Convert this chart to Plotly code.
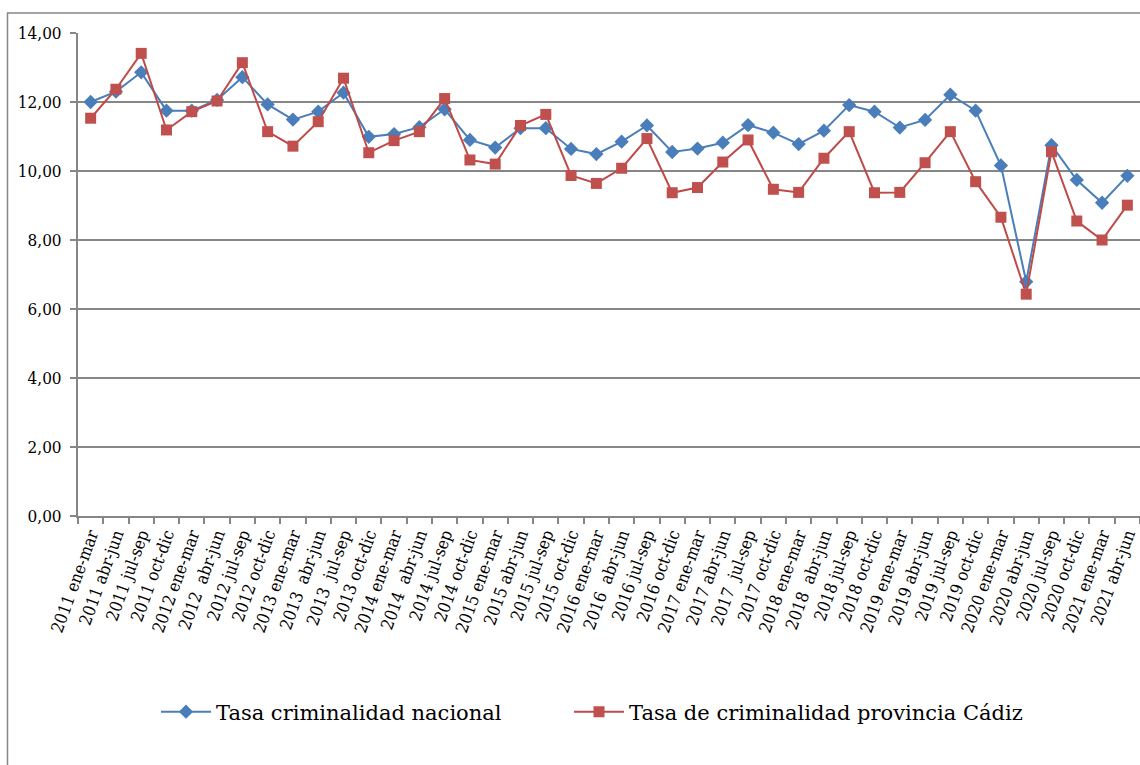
import plotly.graph_objects as go

NB = "\u00a0"
categories = [
    "2011 ene-mar", "2011 abr-jun", "2011 jul-sep", "2011 oct-dic",
    "2012 ene-mar", "2012 " + NB + "abr-jun", "2012 jul-sep", "2012 oct-dic",
    "2013 ene-mar", "2013 " + NB + "abr-jun", "2013 " + NB + "jul-sep", "2013 oct-dic",
    "2014 ene-mar", "2014 " + NB + "abr-jun", "2014 jul-sep", "2014 oct-dic",
    "2015 ene-mar", "2015 abr-jun", "2015 jul-sep", "2015 oct-dic",
    "2016 ene-mar", "2016 " + NB + "abr-jun", "2016 jul-sep", "2016 oct-dic",
    "2017 ene-mar", "2017 abr-jun", "2017 " + NB + "jul-sep", "2017 oct-dic",
    "2018 ene-mar", "2018 " + NB + "abr-jun", "2018 jul-sep", "2018 oct-dic",
    "2019 ene-mar", "2019 abr-jun", "2019 jul-sep", "2019 oct-dic",
    "2020 ene-mar", "2020 abr-jun", "2020 jul-sep", "2020 oct-dic",
    "2021 ene-mar", "2021 abr-jun",
]

nacional = [
    12.00, 12.30, 12.86, 11.75, 11.75, 12.06, 12.72, 11.93, 11.49, 11.72,
    12.27, 10.99, 11.07, 11.27, 11.79, 10.90, 10.68, 11.24, 11.24, 10.64,
    10.49, 10.85, 11.32, 10.55, 10.65, 10.82, 11.33, 11.11, 10.78, 11.17,
    11.91, 11.72, 11.26, 11.48, 12.21, 11.75, 10.16, 6.79, 10.75, 9.74,
    9.08, 9.86,
]

cadiz = [
    11.53, 12.37, 13.41, 11.19, 11.72, 12.03, 13.14, 11.14, 10.72, 11.43,
    12.69, 10.53, 10.88, 11.14, 12.10, 10.32, 10.20, 11.32, 11.64, 9.87,
    9.64, 10.08, 10.94, 9.37, 9.52, 10.26, 10.90, 9.47, 9.38, 10.37,
    11.14, 9.37, 9.38, 10.24, 11.14, 9.69, 8.66, 6.43, 10.56, 8.55,
    8.00, 9.01,
]

series_names = ["Tasa criminalidad nacional", "Tasa de criminalidad provincia Cádiz"]

fig = go.Figure()
fig.add_trace(go.Scatter(
    x=categories, y=nacional, name=series_names[0], mode="lines+markers",
    line=dict(color="#4A7EBB", width=2),
    marker=dict(symbol="diamond", size=11, color="#4A7EBB"),
    legend="legend",
))
fig.add_trace(go.Scatter(
    x=categories, y=cadiz, name=series_names[1], mode="lines+markers",
    line=dict(color="#BE4B48", width=2),
    marker=dict(symbol="square", size=11, color="#C0504D"),
    legend="legend2",
))

W, H = 1140, 765
L, R, T, B = 78, 0, 33, 249
pw, ph = W - L - R, H - T - B

def px_x(x):
    return (x - L) / pw

def px_y(y):
    return (H - B - y) / ph

LEG_FONT = dict(size=21, family="DejaVu Serif", color="black")

fig.update_layout(
    width=W, height=H,
    margin=dict(l=L, r=R, t=T, b=B, pad=0),
    paper_bgcolor="white", plot_bgcolor="white",
    separators=",.",
    font=dict(family="DejaVu Serif", size=16, color="black"),
    showlegend=True,
    legend=dict(
        orientation="h", x=px_x(156), xanchor="left", y=px_y(712), yanchor="middle",
        font=LEG_FONT, bgcolor="rgba(0,0,0,0)", itemwidth=50,
    ),
    legend2=dict(
        orientation="h", x=px_x(569), xanchor="left", y=px_y(712), yanchor="middle",
        font=LEG_FONT, bgcolor="rgba(0,0,0,0)", itemwidth=50,
    ),
    xaxis=dict(
        type="category", tickangle=-70, tickson="boundaries",
        showgrid=False, showline=True, linecolor="#868686", linewidth=2,
        ticks="outside", ticklen=6, tickcolor="#868686", tickwidth=1.5,
        tickfont=dict(size=17, family="DejaVu Serif Condensed"), range=[-0.5, len(categories) - 0.5],
        zeroline=False,
    ),
    yaxis=dict(
        range=[0, 14], dtick=2, tickformat=".2f",
        showgrid=True, gridcolor="#868686", gridwidth=2,
        showline=True, linecolor="#868686", linewidth=2,
        ticks="outside", ticklen=6, tickcolor="#868686", tickwidth=1.5,
        tickfont=dict(size=17, family="DejaVu Serif Condensed"), zeroline=False,
        ticklabelstandoff=5,
    ),
    shapes=[dict(
        type="rect", xref="paper", yref="paper",
        x0=px_x(7.5), x1=px_x(1160), y0=px_y(800), y1=px_y(13),
        line=dict(color="#868686", width=1.5), fillcolor="rgba(0,0,0,0)", layer="below",
    )],
)

fig.write_html("out.html")
